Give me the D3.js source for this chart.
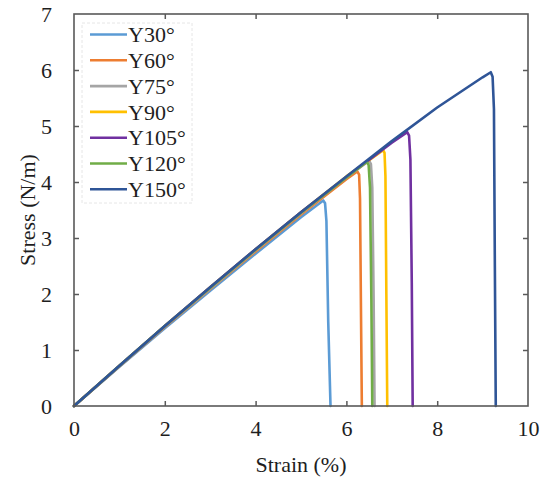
<!DOCTYPE html>
<html>
<head>
<meta charset="utf-8">
<script src="https://cdn.jsdelivr.net/npm/d3@7/dist/d3.min.js"></script>
<style>
  html, body { margin: 0; padding: 0; background: #fff; }
  svg { display: block; }
  text { font-family: "Liberation Serif", "Times New Roman", serif; fill: #1e1e1e; }
</style>
</head>
<body>
<svg id="chart" width="546" height="479"></svg>
<script>
// ---- Data ----
const seriesNames = ["Y30°", "Y60°", "Y75°", "Y90°", "Y105°", "Y120°", "Y150°"];
const seriesColors = ["#5b9bd5", "#ed7d31", "#a5a5a5", "#ffc000", "#7030a0", "#70ad47", "#2f5597"];

const strainY30  = [0, 1, 2, 3, 4, 5, 5.49, 5.53, 5.56, 5.6, 5.65];
const stressY30  = [0, 0.70, 1.39, 2.06, 2.72, 3.37, 3.67, 3.62, 3.3, 1.5, 0];
const strainY60  = [0, 1, 2, 3, 4, 5, 6, 6.24, 6.28, 6.3, 6.32, 6.34];
const stressY60  = [0, 0.71, 1.41, 2.09, 2.76, 3.42, 4.05, 4.19, 4.13, 3.7, 1.8, 0];
const strainY75  = [0, 1, 2, 3, 4, 5, 6, 6.5, 6.54, 6.57, 6.6, 6.62];
const stressY75  = [0, 0.71, 1.42, 2.10, 2.78, 3.44, 4.08, 4.38, 4.32, 3.9, 1.9, 0];
const strainY90  = [0, 1, 2, 3, 4, 5, 6, 6.81, 6.84, 6.86, 6.88, 6.9];
const stressY90  = [0, 0.72, 1.43, 2.12, 2.80, 3.46, 4.10, 4.57, 4.52, 4.1, 2.0, 0];
const strainY105 = [0, 1, 2, 3, 4, 5, 6, 7, 7.34, 7.38, 7.41, 7.44, 7.46];
const stressY105 = [0, 0.72, 1.43, 2.12, 2.80, 3.46, 4.09, 4.70, 4.89, 4.83, 4.4, 2.2, 0];
const strainY120 = [0, 1, 2, 3, 4, 5, 6, 6.45, 6.49, 6.52, 6.55, 6.57];
const stressY120 = [0, 0.72, 1.43, 2.11, 2.79, 3.45, 4.08, 4.36, 4.30, 3.9, 1.9, 0];
const strainY150 = [0, 1, 2, 3, 4, 5, 6, 7, 8, 9, 9.18, 9.22, 9.25, 9.27, 9.29];
const stressY150 = [0, 0.72, 1.43, 2.12, 2.80, 3.46, 4.10, 4.73, 5.33, 5.87, 5.96, 5.88, 5.3, 2.5, 0];

const xTicks = [0, 2, 4, 6, 8, 10];
const yTicks = [0, 1, 2, 3, 4, 5, 6, 7];

const strains = [strainY30, strainY60, strainY75, strainY90, strainY105, strainY120, strainY150];
const stresses = [stressY30, stressY60, stressY75, stressY90, stressY105, stressY120, stressY150];

// ---- Layout ----
const svg = d3.select("#chart");
const mLeft = 74, mRight = 528, mTop = 14, mBottom = 406;

const x = d3.scaleLinear().domain([0, 10]).range([mLeft, mRight]);
const y = d3.scaleLinear().domain([0, 7]).range([mBottom, mTop]);

const axisColor = "#595959";
const tickLen = 5;

// Curves
const line = d3.line().x(d => x(d[0])).y(d => y(d[1])).curve(d3.curveLinear);
const plot = svg.append("g");
seriesNames.forEach((name, i) => {
  const pts = strains[i].map((s, k) => [s, stresses[i][k]]);
  plot.append("path")
    .datum(pts)
    .attr("d", line)
    .attr("fill", "none")
    .attr("stroke", seriesColors[i])
    .attr("stroke-width", 2.6)
    .attr("stroke-linejoin", "round")
    .attr("stroke-linecap", "round");
});

// Axes (ticks inward on all sides)
const fontSize = 22;
const gx = svg.append("g").attr("transform", `translate(0,${mBottom})`)
  .call(d3.axisBottom(x).tickValues(xTicks).tickSizeInner(-tickLen).tickSizeOuter(0).tickPadding(14).tickFormat(d3.format("d")));
const gxTop = svg.append("g").attr("transform", `translate(0,${mTop})`)
  .call(d3.axisTop(x).tickValues(xTicks).tickSizeInner(-tickLen).tickSizeOuter(0).tickFormat(""));
const gy = svg.append("g").attr("transform", `translate(${mLeft},0)`)
  .call(d3.axisLeft(y).tickValues(yTicks).tickSizeInner(-tickLen).tickSizeOuter(0).tickPadding(22).tickFormat(d3.format("d")));
const gyRight = svg.append("g").attr("transform", `translate(${mRight},0)`)
  .call(d3.axisRight(y).tickValues(yTicks).tickSizeInner(-tickLen).tickSizeOuter(0).tickFormat(""));

[gx, gxTop, gy, gyRight].forEach(g => {
  g.select(".domain").remove();
  g.selectAll(".tick line").attr("stroke", axisColor).attr("stroke-width", 1.5);
  g.selectAll(".tick text")
    .attr("font-family", "'Liberation Serif', 'Times New Roman', serif")
    .attr("font-size", fontSize).attr("fill", "#1e1e1e");
});
gx.selectAll(".tick").filter(d => d === 0 || d === 10).select("line").remove();
gxTop.selectAll(".tick").filter(d => d === 0 || d === 10).select("line").remove();
gy.selectAll(".tick").filter(d => d === 0 || d === 7).select("line").remove();
gyRight.selectAll(".tick").filter(d => d === 0 || d === 7).select("line").remove();

// Frame
svg.append("rect")
  .attr("x", mLeft).attr("y", mTop)
  .attr("width", mRight - mLeft).attr("height", mBottom - mTop)
  .attr("fill", "none").attr("stroke", axisColor).attr("stroke-width", 1.6);

// Axis titles
svg.append("text")
  .attr("x", (mLeft + mRight) / 2).attr("y", 472)
  .attr("text-anchor", "middle").attr("font-size", fontSize)
  .text("Strain (%)");
svg.append("text")
  .attr("transform", `translate(35,${(mTop + mBottom) / 2}) rotate(-90)`)
  .attr("text-anchor", "middle").attr("font-size", fontSize)
  .text("Stress (N/m)");

// Legend
const lg = svg.append("g");
lg.append("rect")
  .attr("x", 82).attr("y", 23).attr("width", 110).attr("height", 180)
  .attr("fill", "#fff").attr("stroke", "#e6e6e6").attr("stroke-width", 1)
  .attr("stroke-dasharray", "3,2");
seriesNames.forEach((name, i) => {
  const cy = 34.5 + i * 25.8;
  lg.append("line")
    .attr("x1", 90).attr("x2", 127).attr("y1", cy).attr("y2", cy)
    .attr("stroke", seriesColors[i]).attr("stroke-width", 2.6);
  lg.append("text")
    .attr("x", 128).attr("y", cy).attr("dy", "0.35em")
    .attr("font-size", fontSize)
    .text(name);
});
</script>
</body>
</html>
